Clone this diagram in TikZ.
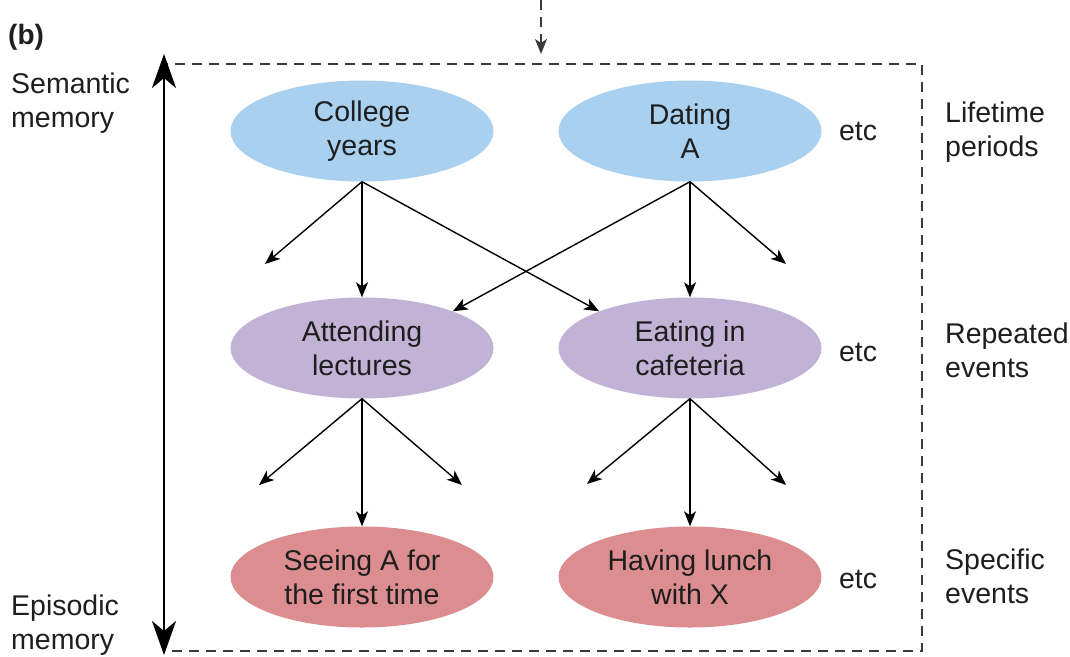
\documentclass[tikz,border=0pt]{standalone}
\usepackage{fontspec}
\setmainfont{Liberation Sans}
\usetikzlibrary{shapes.geometric,arrows.meta}
\definecolor{txt}{HTML}{1E1E1E}
\definecolor{lblue}{HTML}{A9D0EE}
\definecolor{lpurple}{HTML}{C2B2D6}
\definecolor{lpink}{HTML}{DC8D90}
\definecolor{dashgray}{HTML}{3A3A3A}
\tikzset{
  bigfont/.style={font=\fontsize{28.5}{34}\selectfont, text=txt},
  memnode/.style={ellipse, minimum width=263pt, minimum height=101pt, inner sep=0pt, align=center, bigfont},
  lifenode/.style={memnode, fill=lblue},
  repnode/.style={memnode, fill=lpurple},
  specnode/.style={memnode, fill=lpink},
  lbl/.style={bigfont, align=left, anchor=west, inner sep=0pt},
  etcnode/.style={bigfont, inner sep=0pt},
  conn/.style={line width=1.4pt, draw=black, -{Stealth[length=15pt,width=12pt,inset=4pt]}},
  dashbox/.style={line width=1.6pt, draw=dashgray, dash pattern=on 10pt off 7pt},
  mainarrow/.style={line width=2.8pt, {Stealth[length=34pt,width=24pt,inset=10pt]}-{Stealth[length=34pt,width=24pt,inset=10pt]}}
}
\begin{document}
\begin{tikzpicture}[x=1pt,y=-1pt]
\useasboundingbox (0,0) rectangle (1070,656);
% panel label
\node[anchor=west, inner sep=0pt, font=\fontsize{28}{33}\selectfont\bfseries, text=txt] (plabel) at (8,37) {(b)};
% dashed box
\coordinate (boxtl) at (164,64);
\coordinate (boxbr) at (922,651);
\draw[dashbox] (boxtl) rectangle (boxbr);
% dashed incoming arrow
\coordinate (topin) at (541,0);
\coordinate (topout) at (541,54);
\draw[line width=1.6pt, draw=dashgray, dash pattern=on 10pt off 7pt, -{Stealth[length=15pt,width=12pt,inset=4pt]}] (topin) -- (topout);
% main vertical arrow
\coordinate (vtop) at (164,54);
\coordinate (vbot) at (164,655);
\draw[mainarrow] (vtop) -- (vbot);
% left labels
\node[lbl] (sem) at (11,103) {Semantic\\memory};
\node[lbl] (epi) at (11,625) {Episodic\\memory};
% right labels
\node[lbl] (lifep) at (945,132) {Lifetime\\periods};
\node[lbl] (repev) at (945,350) {Repeated\\events};
\node[lbl] (specev) at (945,576) {Specific\\events};
% ellipses
\node[lifenode] (coll) at (362,131) {College\\years};
\node[lifenode] (date) at (690,131) {Dating\\A};
\node[repnode] (att) at (362,348) {Attending\\lectures};
\node[repnode] (eat) at (690,348) {Eating in\\cafeteria};
\node[specnode] (see) at (362,577) {Seeing A for\\the first time};
\node[specnode] (lunch) at (690,577) {Having lunch\\with X};
% etc
\node[etcnode] (etc1) at (858,131) {etc};
\node[etcnode] (etc2) at (858,352) {etc};
\node[etcnode] (etc3) at (858,579) {etc};
% free ends
\coordinate (c1l) at (265,264);
\coordinate (d1r) at (786,264);
\coordinate (a1l) at (259,485);
\coordinate (a1r) at (462,485);
\coordinate (e1l) at (587,484);
\coordinate (e1r) at (786,485);
% connectors
\draw[conn] (coll.south) -- (c1l);
\draw[conn] (coll.south) -- (att.north);
\draw[conn] (coll.south) -- (eat.158);
\draw[conn] (date.south) -- (att.22);
\draw[conn] (date.south) -- (eat.north);
\draw[conn] (date.south) -- (d1r);
\draw[conn] (att.south) -- (a1l);
\draw[conn] (att.south) -- (see.north);
\draw[conn] (att.south) -- (a1r);
\draw[conn] (eat.south) -- (e1l);
\draw[conn] (eat.south) -- (lunch.north);
\draw[conn] (eat.south) -- (e1r);
\end{tikzpicture}
\end{document}
